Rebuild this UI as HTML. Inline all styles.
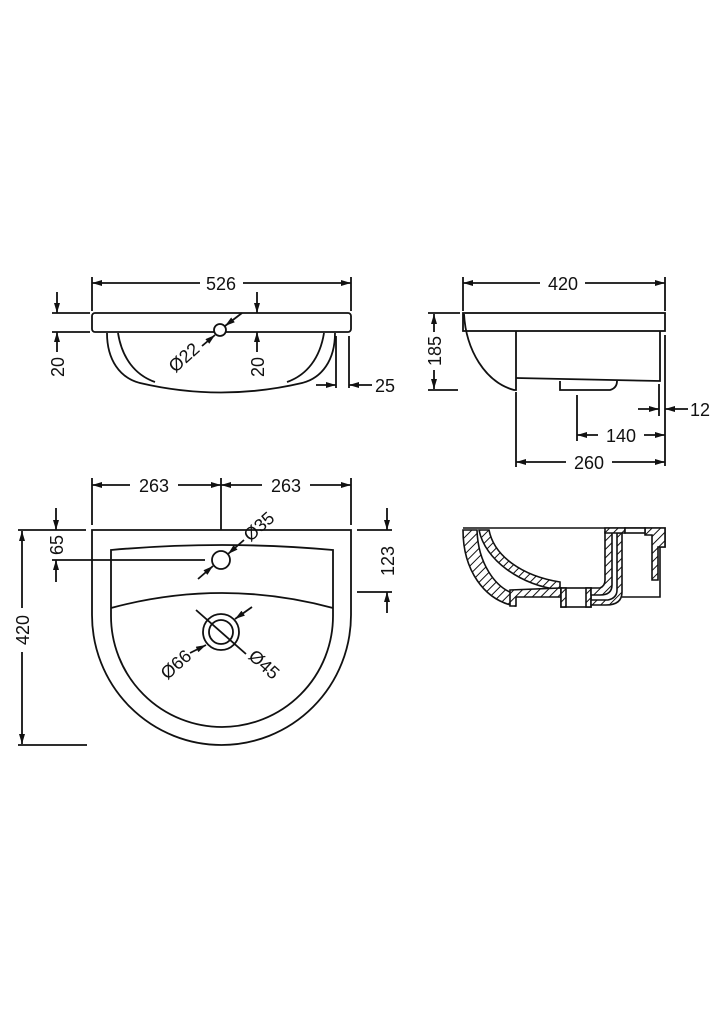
<!DOCTYPE html>
<html><head><meta charset="utf-8"><style>
html,body{margin:0;padding:0;background:#fff}
svg{display:block}
text{font-family:"Liberation Sans",sans-serif;font-size:18px;fill:#111}
</style></head><body>
<svg width="724" height="1024" viewBox="0 0 724 1024" xmlns="http://www.w3.org/2000/svg">
<defs>
<marker id="a" viewBox="0 0 10 6" refX="10" refY="3" markerWidth="11" markerHeight="6" orient="auto-start-reverse" markerUnits="userSpaceOnUse"><path d="M0,0L10,3L0,6z" fill="#111"/></marker>
<pattern id="h" width="6" height="6" patternUnits="userSpaceOnUse" patternTransform="rotate(45)"><rect width="6" height="6" fill="#fff"/><line x1="0" y1="0" x2="0" y2="6" stroke="#111" stroke-width="2"/></pattern>
</defs>
<g stroke="#111" stroke-width="1.8" fill="none">
<line x1="92" y1="277" x2="92" y2="311"/><line x1="351" y1="277" x2="351" y2="311"/>
<line x1="92" y1="283" x2="200" y2="283" marker-start="url(#a)"/><line x1="243" y1="283" x2="351" y2="283" marker-end="url(#a)"/>
<rect x="92" y="313" width="259" height="19" rx="3" fill="#fff"/>
<path d="M107,333 C107,360 120,378 140,383 Q221,402 302,383 C322,378 335,360 335,333"/>
<path d="M118,333 C122,358 135,375 155,382 M324,333 C320,358 307,375 287,382"/>
<circle cx="220" cy="330" r="6" fill="#fff"/>
<line x1="202" y1="346" x2="215" y2="335" marker-end="url(#a)"/><line x1="242" y1="313" x2="225" y2="326" marker-end="url(#a)"/>
<line x1="52" y1="313" x2="90" y2="313"/><line x1="52" y1="332" x2="90" y2="332"/>
<line x1="57" y1="292" x2="57" y2="313" marker-end="url(#a)"/><line x1="57" y1="352" x2="57" y2="332" marker-end="url(#a)"/>
<line x1="257" y1="292" x2="257" y2="313" marker-end="url(#a)"/><line x1="257" y1="352" x2="257" y2="332" marker-end="url(#a)"/>
<line x1="336" y1="336" x2="336" y2="388"/><line x1="349" y1="336" x2="349" y2="388"/>
<line x1="316" y1="385" x2="336" y2="385" marker-end="url(#a)"/><line x1="372" y1="385" x2="349" y2="385" marker-end="url(#a)"/>

<line x1="463" y1="277" x2="463" y2="311"/><line x1="665" y1="277" x2="665" y2="311"/>
<line x1="463" y1="283" x2="540" y2="283" marker-start="url(#a)"/><line x1="585" y1="283" x2="665" y2="283" marker-end="url(#a)"/>
<rect x="463" y="313" width="202" height="18" fill="#fff"/>
<path d="M464,314 C466,350 485,382 514,390 L516,390 L516,331"/>
<path d="M516,378 L660,381 L660,331"/>
<path d="M560,381 L560,390 L610,390 Q617,388 617,381"/>
<line x1="428" y1="313" x2="460" y2="313"/><line x1="428" y1="390" x2="458" y2="390"/>
<line x1="434" y1="332" x2="434" y2="314" marker-end="url(#a)"/><line x1="434" y1="370" x2="434" y2="389" marker-end="url(#a)"/>
<line x1="659" y1="384" x2="659" y2="416"/><line x1="665" y1="335" x2="665" y2="466"/>
<line x1="638" y1="409" x2="659" y2="409" marker-end="url(#a)"/><line x1="688" y1="409" x2="665" y2="409" marker-end="url(#a)"/>
<line x1="577" y1="395" x2="577" y2="441"/>
<line x1="577" y1="435" x2="598" y2="435" marker-start="url(#a)"/><line x1="644" y1="435" x2="665" y2="435" marker-end="url(#a)"/>
<line x1="516" y1="392" x2="516" y2="467"/>
<line x1="516" y1="462" x2="566" y2="462" marker-start="url(#a)"/><line x1="612" y1="462" x2="665" y2="462" marker-end="url(#a)"/>

<line x1="92" y1="478" x2="92" y2="525"/><line x1="221" y1="478" x2="221" y2="545"/><line x1="351" y1="478" x2="351" y2="525"/>
<line x1="92" y1="485" x2="130" y2="485" marker-start="url(#a)"/><line x1="178" y1="485" x2="221" y2="485" marker-end="url(#a)"/>
<line x1="221" y1="485" x2="262" y2="485" marker-start="url(#a)"/><line x1="310" y1="485" x2="351" y2="485" marker-end="url(#a)"/>
<path d="M92,530 L351,530 L351,615 A129.5,130 0 0 1 92,615 Z" fill="#fff"/>
<path d="M111,550 Q222,540 333,550 L333,616 A111,111 0 0 1 111,616 Z"/>
<path d="M111,608 Q222,578 333,608"/>
<circle cx="221" cy="560" r="9"/>
<line x1="198" y1="579" x2="213" y2="566" marker-end="url(#a)"/><line x1="244" y1="540" x2="228" y2="554" marker-end="url(#a)"/>
<circle cx="221" cy="632" r="18"/><circle cx="221" cy="632" r="12"/>
<line x1="196" y1="610" x2="246" y2="654"/>
<line x1="252" y1="607" x2="235" y2="619" marker-end="url(#a)"/><line x1="190" y1="653" x2="206" y2="645" marker-end="url(#a)"/>
<line x1="18" y1="530" x2="86" y2="530"/><line x1="18" y1="745" x2="87" y2="745"/>
<line x1="22" y1="608" x2="22" y2="531" marker-end="url(#a)"/><line x1="22" y1="652" x2="22" y2="744" marker-end="url(#a)"/>
<line x1="56" y1="508" x2="56" y2="530" marker-end="url(#a)"/><line x1="56" y1="582" x2="56" y2="560" marker-end="url(#a)"/>
<line x1="52" y1="560" x2="205" y2="560"/>
<line x1="357" y1="530" x2="392" y2="530"/><line x1="357" y1="592" x2="392" y2="592"/>
<line x1="387" y1="508" x2="387" y2="530" marker-end="url(#a)"/><line x1="387" y1="613" x2="387" y2="592" marker-end="url(#a)"/>

<g stroke-width="1.6">
<path d="M463,530 L477,530 C478,563 495,588 515,594 L515,606 C484,600 463,570 463,530 Z" fill="url(#h)"/>
<path d="M479,530 L489,530 C494,556 522,576 560,582 L560,590 C520,585 485,560 479,530 Z" fill="url(#h)"/>
<path d="M510,590 L561,588 L561,597 L516,597 L516,606 L510,606 Z" fill="url(#h)"/>
<rect x="561" y="588" width="30" height="19" fill="#fff"/>
<rect x="561" y="588" width="5" height="19" fill="url(#h)"/><rect x="586" y="588" width="5" height="19" fill="url(#h)"/>
<path d="M591,588 L600,588 Q605,586 605,580 L605,532 L612,532 L612,585 Q612,595 600,595 L591,595 Z" fill="url(#h)"/>
<path d="M591,600 L608,600 Q617,598 617,590 L617,533 L622,533 L622,592 Q622,605 606,605 L591,605 Z" fill="url(#h)"/>
<line x1="463" y1="528" x2="605" y2="528"/>
<path d="M605,528 L665,528 L665,547 L660,547 L660,597 L622,597" fill="none"/>
<path d="M605,528 L625,528 L625,533 L605,533 Z" fill="url(#h)"/>
<path d="M645,528 L665,528 L665,547 L658,547 L658,580 L652,580 L652,535 L645,535 Z" fill="url(#h)"/>
<rect x="625" y="528" width="20" height="5" fill="#fff"/>
</g>
</g>
<text x="221" y="290" text-anchor="middle">526</text>
<text x="563" y="290" text-anchor="middle">420</text>
<text x="154" y="492" text-anchor="middle">263</text>
<text x="286" y="492" text-anchor="middle">263</text>
<text x="375" y="392">25</text>
<text x="690" y="416">12</text>
<text x="621" y="442" text-anchor="middle">140</text>
<text x="589" y="469" text-anchor="middle">260</text>
<text transform="translate(64,367) rotate(-90)" text-anchor="middle">20</text>
<text transform="translate(264,367) rotate(-90)" text-anchor="middle">20</text>
<text transform="translate(441,351) rotate(-90)" text-anchor="middle">185</text>
<text transform="translate(29,630) rotate(-90)" text-anchor="middle">420</text>
<text transform="translate(63,545) rotate(-90)" text-anchor="middle">65</text>
<text transform="translate(394,561) rotate(-90)" text-anchor="middle">123</text>
<text transform="translate(188,362) rotate(-42)" text-anchor="middle">Ø22</text>
<text transform="translate(263,531) rotate(-42)" text-anchor="middle">Ø35</text>
<text transform="translate(180,669) rotate(-42)" text-anchor="middle">Ø66</text>
<text transform="translate(260,669) rotate(42)" text-anchor="middle">Ø45</text>
</svg>
</body></html>
